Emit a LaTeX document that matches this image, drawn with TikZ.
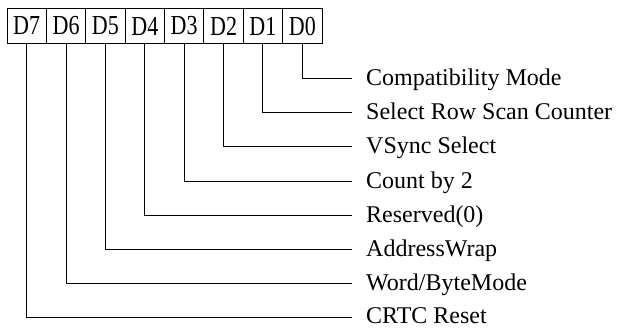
\documentclass[tikz,border=0pt]{standalone}
\usepackage{fontspec}
\setmainfont{Liberation Serif}
\begin{document}
\begin{tikzpicture}[x=1pt,y=-1pt,
  cell/.style={draw, line width=0.9pt, minimum width=39.375pt, minimum height=34.5pt,
    inner sep=0pt, outer sep=0pt, font=\fontsize{22}{22}\selectfont},
  lbl/.style={anchor=base west, inner sep=0pt, font=\fontsize{24}{24}\selectfont},
  wire/.style={line width=1pt}]
\useasboundingbox (0,0) rectangle (619,327);
\foreach \i in {7,...,0} {
  \node[cell] (b\i) at ({7+39.375*(7-\i)+19.6875}, 26) {\scalebox{1}[1.25]{D\i}};
}
\coordinate (e0) at (352,78);
\coordinate (e1) at (352,112);
\coordinate (e2) at (352,146.5);
\coordinate (e3) at (352,181);
\coordinate (e4) at (352,215);
\coordinate (e5) at (352,249);
\coordinate (e6) at (352,283.5);
\coordinate (e7) at (352,317.5);
\node[lbl] (l0) at (366,85) {Compatibility Mode};
\node[lbl] (l1) at (366,119) {Select Row Scan Counter};
\node[lbl] (l2) at (366,153.5) {VSync Select};
\node[lbl] (l3) at (366,188) {Count by 2};
\node[lbl] (l4) at (366,222) {Reserved(0)};
\node[lbl] (l5) at (366,256) {AddressWrap};
\node[lbl] (l6) at (366,290.5) {Word/ByteMode};
\node[lbl] (l7) at (366,323.5) {CRTC Reset};
\foreach \i in {0,...,7} {
  \draw[wire] (b\i.south) |- (e\i);
}
\end{tikzpicture}
\end{document}
